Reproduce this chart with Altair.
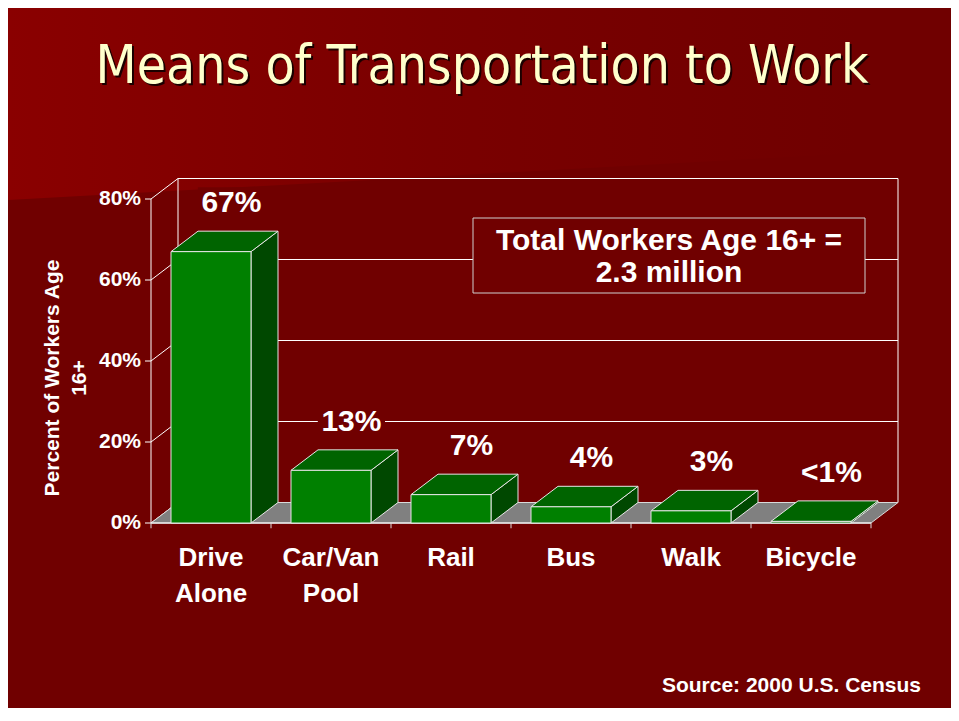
import altair as alt
import pandas as pd

# ---------------- data ----------------
categories = ["Drive\nAlone", "Car/Van\nPool", "Rail", "Bus", "Walk", "Bicycle"]
values = [67, 13, 7, 4, 3, 0.4]
value_labels = ["67%", "13%", "7%", "4%", "3%", "<1%"]
y_ticks = [0, 20, 40, 60, 80]
y_tick_labels = ["0%", "20%", "40%", "60%", "80%"]
grid_values = [20, 40, 60]
title_text = "Means of Transportation to Work"
note_text = "Total Workers Age 16+ =\n2.3 million"
source_text = "Source: 2000 U.S. Census"
y_title = "Percent of Workers Age\n16+"

# ---------------- layout constants ----------------
W, H = 943, 700
M = 8                     # page margin
X0PX, X6PX = 151 - M, 871 - M
Y0PX, Y80PX = 523 - M, 199 - M
DX = 0.225                # 3-D depth, in category units
DY = 5.06                 # 3-D depth, in percent units
BL, BR = 1 / 6, 5 / 6     # bar edges inside a category slot
BG = "#700000"
FONT = "Liberation Sans"

xs = alt.Scale(domain=[0, 6], range=[X0PX, X6PX], nice=False, zero=False)
ys = alt.Scale(domain=[0, 80], range=[Y0PX, Y80PX], nice=False, zero=False)


def X(f):
    return alt.X(f, type="quantitative", scale=xs, axis=None)


def Y(f):
    return alt.Y(f, type="quantitative", scale=ys, axis=None, stack=None)


def px_x(p):  # pixel -> x scale units (for the decorative backdrop)
    return (p - X0PX) / (X6PX - X0PX) * 6


def px_y(p):  # pixel -> y scale units
    return (Y0PX - p) / (Y0PX - Y80PX) * 80


n = len(values)
bars = pd.DataFrame({
    "i": list(range(n)),
    "v": values,
    "lab": value_labels,
    "cat": categories,
})
bars["xl"] = bars["i"] + BL
bars["xr"] = bars["i"] + BR
bars["xc"] = bars["i"] + 0.5
bars["lx"] = bars["i"] + 0.5 + 0.17
bars["ly"] = bars["v"] + DY
bars["lx0"] = bars["lx"] - 0.28
bars["lx1"] = bars["lx"] + 0.28
bars["zero"] = 0.0

top_rows, side_rows = [], []
for i, v in enumerate(values):
    xl, xr = i + BL, i + BR
    top_rows += [
        dict(b=i, x=xl, y=v, y2=v),
        dict(b=i, x=xl + DX, y=v + DY, y2=v),
        dict(b=i, x=xr, y=v + DY, y2=v),
        dict(b=i, x=xr + DX, y=v + DY, y2=v + DY),
    ]
    side_rows += [
        dict(b=i, x=xr, y=v, y2=0.0),
        dict(b=i, x=xr + DX, y=v + DY, y2=DY),
    ]
top_df = pd.DataFrame(top_rows)
side_df = pd.DataFrame(side_rows)

floor_df = pd.DataFrame([
    dict(x=0.0, y=0.0, y2=0.0),
    dict(x=DX, y=DY, y2=0.0),
    dict(x=float(n), y=DY, y2=0.0),
    dict(x=n + DX, y=DY, y2=DY),
])

wall_df = pd.DataFrame([dict(x0=DX, x1=n + DX, y0=DY, y1=80 + DY)])
grid_df = pd.DataFrame({"g": [g + DY for g in grid_values], "x0": DX, "x1": n + DX})
diag_df = pd.DataFrame({"y0": y_ticks, "y1": [t + DY for t in y_ticks], "x0": 0.0, "x1": DX})
ytick_df = pd.DataFrame({"t": y_ticks, "lab": y_tick_labels, "x0": -0.05, "x1": 0.0})
xtick_df = pd.DataFrame({"x": list(range(n + 1)), "y0": 0.0, "y1": -1.3})
axis_df = pd.DataFrame([dict(x=0.0, y0=0.0, y1=80.0, xa=0.0, xb=float(n), yb=0.0)])
one = pd.DataFrame({"k": [0]})

# ---------------- background (lighter sloping band at the top) ----------------
band_df = pd.DataFrame({
    "x": [px_x(0), px_x(W)],
    "y": [px_y(-2), px_y(-2)],
    "y2": [px_y(192), px_y(140)],
})
bg_top = alt.Chart(band_df).mark_area(
    color=alt.Gradient(
        gradient="linear",
        stops=[alt.GradientStop(color="#8a0000", offset=0),
               alt.GradientStop(color="#7a0000", offset=0.45),
               alt.GradientStop(color=BG, offset=0.9)],
        x1=0, x2=1, y1=0, y2=0,
    )
).encode(x=X("x"), y=Y("y"), y2="y2")

# ---------------- walls / grid ----------------
wall = alt.Chart(wall_df).mark_rect(fillOpacity=0, stroke="white", strokeWidth=1).encode(
    x=X("x0"), x2="x1", y=Y("y0"), y2="y1")
grid = alt.Chart(grid_df).mark_rule(color="white", strokeWidth=1).encode(
    x=X("x0"), x2="x1", y=Y("g"))
diag = alt.Chart(diag_df).mark_rule(color="white", strokeWidth=1).encode(
    x=X("x0"), x2="x1", y=Y("y0"), y2="y1")
vaxis = alt.Chart(axis_df).mark_rule(color="white", strokeWidth=1).encode(
    x=X("x"), y=Y("y0"), y2="y1")
yticks = alt.Chart(ytick_df).mark_rule(color="white", strokeWidth=1).encode(
    x=X("x0"), x2="x1", y=Y("t"))
xticks = alt.Chart(xtick_df).mark_rule(color="#d9d9d9", strokeWidth=1).encode(
    x=X("x"), y=Y("y0"), y2="y1")

floor = alt.Chart(floor_df).mark_area(color="#808080", stroke="#d9d9d9", strokeWidth=1).encode(
    x=X("x"), y=Y("y"), y2="y2")
haxis = alt.Chart(axis_df).mark_rule(color="#e6e6e6", strokeWidth=1.5).encode(
    x=X("xa"), x2="xb", y=Y("yb"))

# ---------------- 3-D bars ----------------
side = alt.Chart(side_df).mark_area(color="#004800", stroke="#e6e6e6", strokeWidth=1).encode(
    x=X("x"), y=Y("y"), y2="y2", detail="b:N")
top = alt.Chart(top_df).mark_area(color="#006400", stroke="#e6e6e6", strokeWidth=1).encode(
    x=X("x"), y=Y("y"), y2="y2", detail="b:N")
front = alt.Chart(bars).mark_rect(color="#008000", stroke="#e6e6e6", strokeWidth=1).encode(
    x=X("xl"), x2="xr", y=Y("zero"), y2="v")

# ---------------- labels ----------------
lab_bg = alt.Chart(bars).mark_rect(color=BG, yOffset=-44, y2Offset=-16).encode(
    x=X("lx0"), x2="lx1", y=Y("ly"), y2="ly")
val_labels = alt.Chart(bars).mark_text(
    font=FONT, fontSize=30, fontWeight="bold", color="white", dy=-19,
    baseline="alphabetic", align="center"
).encode(x=X("lx"), y=Y("ly"), text="lab:N")

cat_labels = alt.Chart(bars).mark_text(
    font=FONT, fontSize=26, fontWeight="bold", color="white", dy=43,
    baseline="alphabetic", align="center", lineBreak="\n", lineHeight=36
).encode(x=X("xc"), y=Y("zero"), text="cat:N")

ytick_labels = alt.Chart(ytick_df).mark_text(
    font=FONT, fontSize=21, fontWeight="bold", color="white", dx=-10,
    align="right", baseline="middle"
).encode(x=X("x1"), y=Y("t"), text="lab:N")

ytitle = alt.Chart(pd.DataFrame({"t": [y_title]})).mark_text(
    font=FONT, fontSize=21, fontWeight="bold", color="white", angle=270,
    align="center", baseline="middle", lineBreak="\n", lineHeight=27
).encode(x=alt.value(45), y=alt.value(370), text="t:N")

box = alt.Chart(one).mark_rect(fill=BG, stroke="#cfcfcf", strokeWidth=1).encode(
    x=alt.value(465), x2=alt.value(857), y=alt.value(210), y2=alt.value(285))
box_text = alt.Chart(pd.DataFrame({"t": [note_text]})).mark_text(
    font=FONT, fontSize=30, fontWeight="bold", color="white", align="center",
    baseline="alphabetic", lineBreak="\n", lineHeight=32
).encode(x=alt.value(661), y=alt.value(242), text="t:N")

title_df = pd.DataFrame({"t": [title_text]})
title_font = "DejaVu Sans Condensed, Liberation Sans Narrow, Tahoma, DejaVu Sans"
title_shadow = alt.Chart(title_df).mark_text(
    font=title_font, fontSize=53, color="#1a0000", align="center", baseline="alphabetic"
).encode(x=alt.value(476), y=alt.value(77), text="t:N")
title = alt.Chart(title_df).mark_text(
    font=title_font, fontSize=53, color="#FFFFCC", align="center", baseline="alphabetic"
).encode(x=alt.value(474), y=alt.value(75), text="t:N")

source = alt.Chart(pd.DataFrame({"t": [source_text]})).mark_text(
    font=FONT, fontSize=21, fontWeight="bold", color="white", align="right",
    baseline="alphabetic"
).encode(x=alt.value(913), y=alt.value(684), text="t:N")

chart = alt.layer(
    bg_top, wall, grid, diag, floor, haxis, xticks, vaxis, yticks,
    side, top, front, lab_bg, val_labels, cat_labels, ytick_labels, ytitle,
    box, box_text, title_shadow, title, source
).properties(
    width=W, height=H, padding=0,
    autosize=alt.AutoSizeParams(type="none"),
    background=BG,
).configure_view(stroke=None)

chart.save("out.html", embed_options={"renderer": "svg", "actions": False})
